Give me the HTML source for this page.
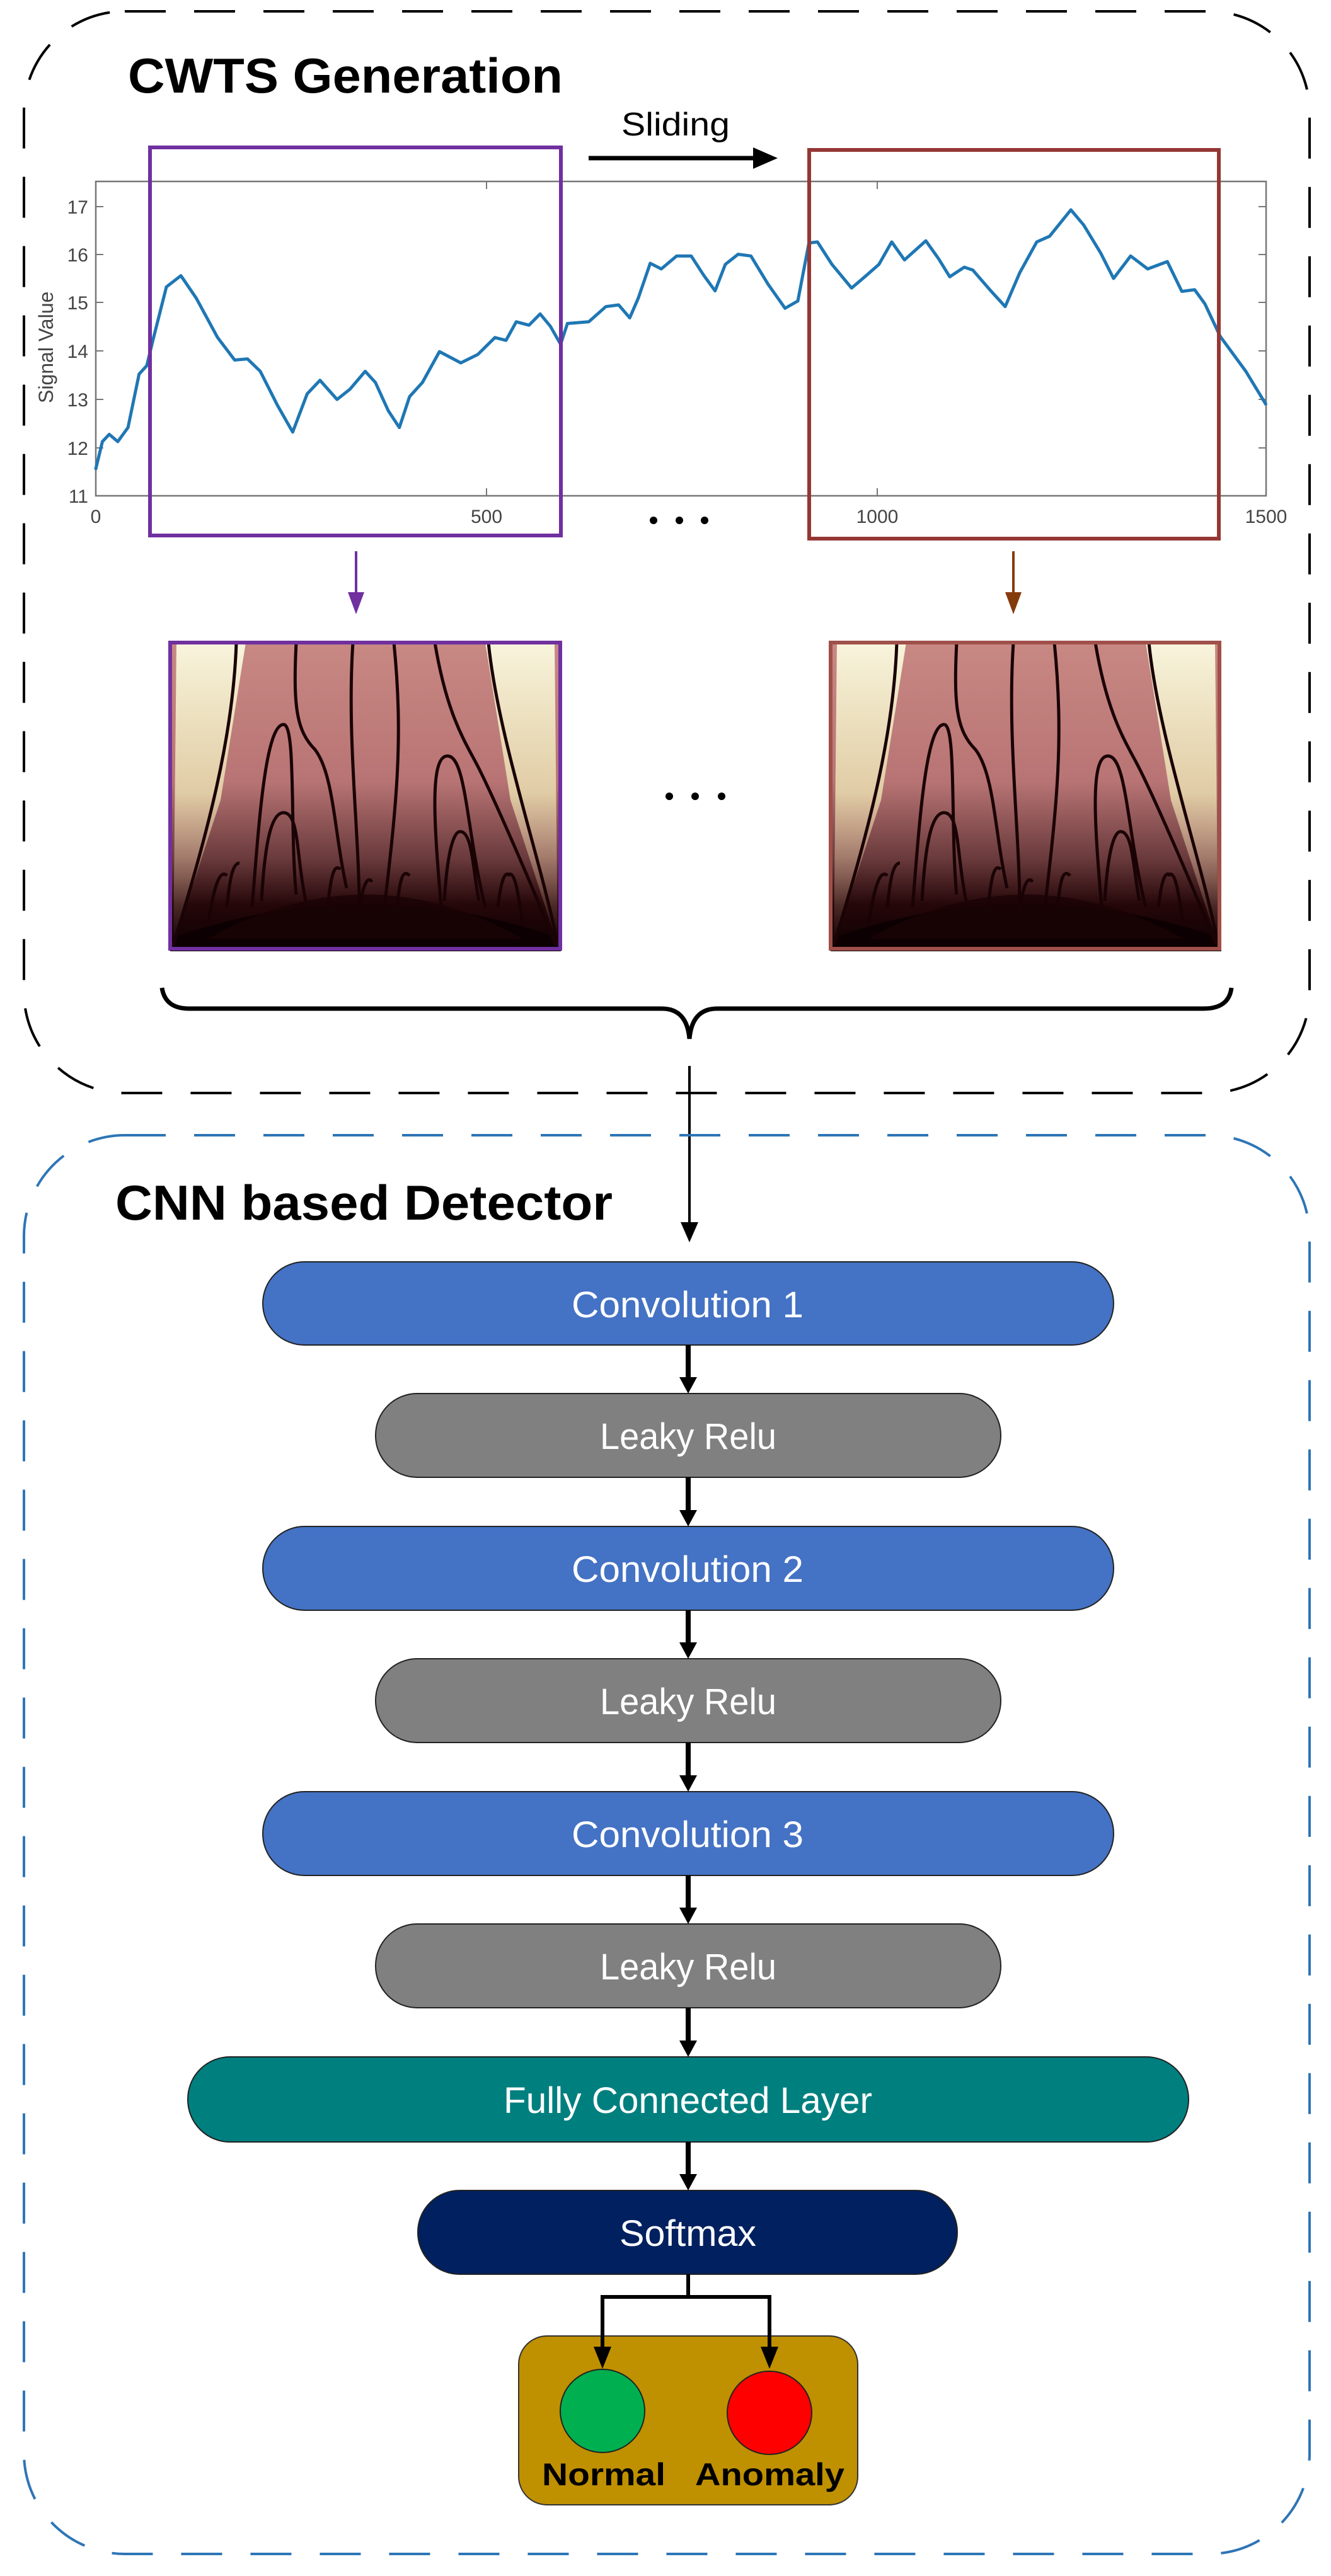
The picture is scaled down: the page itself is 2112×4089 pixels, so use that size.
<!DOCTYPE html>
<html><head><meta charset="utf-8"><style>html,body{margin:0;padding:0;background:#fff}svg{display:block}</style></head>
<body>
<svg xmlns="http://www.w3.org/2000/svg" width="2112" height="4089" viewBox="0 0 2112 4089">
<defs>
<linearGradient id="bg" x1="0" y1="0" x2="0" y2="1">
<stop offset="0" stop-color="#c88883"/><stop offset="0.45" stop-color="#b87474"/><stop offset="0.7" stop-color="#6a3a3c"/><stop offset="0.85" stop-color="#250709"/><stop offset="1" stop-color="#0c0002"/></linearGradient>
<linearGradient id="yl" x1="0" y1="0" x2="0" y2="1"><stop offset="0" stop-color="#f8f4dc"/><stop offset="0.5" stop-color="#e8dcae" stop-opacity="0.85"/><stop offset="1" stop-color="#c89080" stop-opacity="0"/></linearGradient>
<g id="scal">
<rect x="0" y="0" width="620" height="490" fill="url(#bg)"/>
<path d="M10,0 L120,0 L80,250 L5,480 Z" fill="url(#yl)"/>
<path d="M500,0 L610,0 L615,480 L540,250 Z" fill="url(#yl)"/>
<path d="M0,490 L0,470 Q310,360 620,470 L620,490 Z" fill="#0c0002"/>
<path d="M60,470 Q310,330 560,470 Z" fill="#1a0305" opacity="0.8"/>
<g fill="none" stroke="#1a0305" stroke-width="5">
<path d="M105,0 C100,150 60,300 5,480"/>
<path d="M200,0 C195,100 200,140 230,170 C260,210 260,300 280,390"/>
<path d="M290,0 C280,150 300,300 300,420"/>
<path d="M355,0 C370,150 360,250 340,420"/>
<path d="M420,0 C440,120 470,160 490,200 C520,260 580,400 612,480"/>
<path d="M505,0 C520,150 590,350 615,480"/>
<path d="M130,420 C140,300 150,130 180,130 C200,130 190,300 200,400"/>
<path d="M430,420 C420,300 410,180 440,180 C470,180 470,300 500,420"/>
<path d="M145,410 C150,320 160,270 180,270 C205,270 200,340 215,410"/>
<path d="M435,410 C440,330 450,300 460,300 C480,300 480,360 490,410"/>
<path d="M90,420 C95,370 100,350 110,350 M250,420 C255,370 260,350 270,360 M360,420 C365,370 370,360 380,370 M520,420 C525,380 530,360 540,370"/>
<path d="M60,450 C70,380 80,360 90,370 M560,450 C550,380 545,360 535,370 M300,430 C305,380 315,370 320,380"/>
</g>
</g>
</defs>

<rect x="38" y="18" width="2040" height="1717" rx="160" ry="160" fill="none" stroke="#000" stroke-width="4" stroke-dasharray="65,45"/>
<text x="203" y="147" font-family="Liberation Sans, sans-serif" font-weight="bold" font-size="78" textLength="690" lengthAdjust="spacingAndGlyphs">CWTS Generation</text>
<text x="986" y="215" font-family="Liberation Sans, sans-serif" font-size="52" textLength="172" lengthAdjust="spacingAndGlyphs">Sliding</text>
<line x1="934" y1="251" x2="1200" y2="251" stroke="#000" stroke-width="7"/>
<path d="M1195,234 L1234,251 L1195,268 Z" fill="#000"/>

<rect x="152" y="288" width="1857" height="499" fill="none" stroke="#777" stroke-width="2.5"/>
<g stroke="#777" stroke-width="2">
<line x1="152" y1="328" x2="164" y2="328"/><line x1="152" y1="404" x2="164" y2="404"/><line x1="152" y1="480" x2="164" y2="480"/><line x1="152" y1="557" x2="164" y2="557"/><line x1="152" y1="634" x2="164" y2="634"/><line x1="152" y1="711" x2="164" y2="711"/>
<line x1="2009" y1="328" x2="1997" y2="328"/><line x1="2009" y1="404" x2="1997" y2="404"/><line x1="2009" y1="480" x2="1997" y2="480"/><line x1="2009" y1="557" x2="1997" y2="557"/><line x1="2009" y1="634" x2="1997" y2="634"/><line x1="2009" y1="711" x2="1997" y2="711"/>
<line x1="772" y1="787" x2="772" y2="775"/><line x1="1392" y1="787" x2="1392" y2="775"/><line x1="772" y1="288" x2="772" y2="300"/><line x1="1392" y1="288" x2="1392" y2="300"/>
</g>
<g font-family="Liberation Sans, sans-serif" font-size="30" fill="#444" text-anchor="end">
<text x="140" y="339">17</text><text x="140" y="415">16</text><text x="140" y="491">15</text><text x="140" y="568">14</text><text x="140" y="645">13</text><text x="140" y="722">12</text><text x="140" y="798">11</text>
</g>
<g font-family="Liberation Sans, sans-serif" font-size="30" fill="#444" text-anchor="middle">
<text x="152" y="830">0</text><text x="772" y="830">500</text><text x="1392" y="830">1000</text><text x="2009" y="830">1500</text>
</g>
<text transform="translate(84,640) rotate(-90)" font-family="Liberation Sans, sans-serif" font-size="32" fill="#444">Signal      Value</text>
<g transform="matrix(1.354,0,0,0.893,0,0)">
<polyline fill="none" stroke="#1f77b4" stroke-width="5" vector-effect="non-scaling-stroke" stroke-linejoin="round" points="112,835 120,785 128,772 138,785 150,760 163,665 172,650 180,600 195,510 212,490 230,530 255,600 275,640 290,638 305,660 325,720 343,768 360,700 375,676 395,710 410,692 428,660 440,680 455,730 468,760 480,705 495,680 515,625 540,645 560,630 580,600 593,605 605,572 620,578 633,558 645,580 657,612 665,575 690,572 710,545 725,542 738,565 748,530 762,468 775,478 793,455 810,455 825,490 838,517 850,470 865,452 880,455 900,505 920,548 935,535 948,432 958,430 975,470 998,512 1015,490 1030,470 1045,430 1060,462 1085,428 1100,460 1113,492 1130,475 1140,480 1160,515 1178,545 1195,485 1215,430 1230,420 1255,373 1270,400 1290,450 1305,495 1325,455 1345,478 1368,465 1385,518 1400,515 1412,540 1430,598 1460,660 1484,720"/>
</g>
<rect x="238" y="234" width="652" height="616" fill="none" stroke="#7030A0" stroke-width="6"/>
<rect x="1284" y="238" width="650" height="617" fill="none" stroke="#953735" stroke-width="6"/>
<g fill="#000"><circle cx="1037" cy="826" r="6"/><circle cx="1078" cy="826" r="6"/><circle cx="1118" cy="826" r="6"/>
<circle cx="1062" cy="1264" r="6"/><circle cx="1103" cy="1264" r="6"/><circle cx="1145" cy="1264" r="6"/></g>

<line x1="565" y1="875" x2="565" y2="945" stroke="#7030A0" stroke-width="4"/>
<path d="M552,940 L565,975 L578,940 Z" fill="#7030A0"/>
<line x1="1608" y1="875" x2="1608" y2="945" stroke="#843C0C" stroke-width="4"/>
<path d="M1595,940 L1608,975 L1621,940 Z" fill="#843C0C"/>

<use href="#scal" x="270" y="1020"/>
<rect x="270" y="1020" width="619" height="486" fill="none" stroke="#7030A0" stroke-width="6"/>
<use href="#scal" x="1318" y="1020"/>
<rect x="1318" y="1020" width="617" height="486" fill="none" stroke="#A0504A" stroke-width="6"/>

<path d="M257,1568 Q262,1601 300,1601 L1050,1601 Q1090,1601 1094,1649 Q1098,1601 1138,1601 L1910,1601 Q1950,1601 1954,1568" fill="none" stroke="#000" stroke-width="7"/>
<line x1="1094" y1="1692" x2="1094" y2="1945" stroke="#000" stroke-width="4"/>
<path d="M1080,1940 L1094,1972 L1108,1940 Z" fill="#000"/>

<rect x="38" y="1802" width="2040" height="2252" rx="160" ry="160" fill="none" stroke="#2E75B6" stroke-width="4" stroke-dasharray="65,45"/>
<text x="183" y="1936" font-family="Liberation Sans, sans-serif" font-weight="bold" font-size="78" textLength="789" lengthAdjust="spacingAndGlyphs">CNN based Detector</text>

<g stroke="#222" stroke-width="2">
<rect x="417" y="2003" width="1350" height="132" rx="66" fill="#4472C4"/>
<rect x="596" y="2212" width="992" height="133" rx="66" fill="#808080"/>
<rect x="417" y="2423" width="1350" height="133" rx="66" fill="#4472C4"/>
<rect x="596" y="2633" width="992" height="133" rx="66" fill="#808080"/>
<rect x="417" y="2844" width="1350" height="133" rx="66" fill="#4472C4"/>
<rect x="596" y="3054" width="992" height="133" rx="66" fill="#808080"/>
<rect x="298" y="3265" width="1588" height="135" rx="67" fill="#007F7F"/>
<rect x="663" y="3477" width="856" height="133" rx="66" fill="#002060"/>
</g>
<g font-family="Liberation Sans, sans-serif" font-size="58" fill="#fff">
<text x="907" y="2091" textLength="368" lengthAdjust="spacingAndGlyphs">Convolution 1</text>
<text x="952" y="2300" textLength="280" lengthAdjust="spacingAndGlyphs">Leaky Relu</text>
<text x="907" y="2511" textLength="368" lengthAdjust="spacingAndGlyphs">Convolution 2</text>
<text x="952" y="2721" textLength="280" lengthAdjust="spacingAndGlyphs">Leaky Relu</text>
<text x="907" y="2932" textLength="368" lengthAdjust="spacingAndGlyphs">Convolution 3</text>
<text x="952" y="3142" textLength="280" lengthAdjust="spacingAndGlyphs">Leaky Relu</text>
<text x="799" y="3354" textLength="585" lengthAdjust="spacingAndGlyphs">Fully Connected Layer</text>
<text x="983" y="3565" textLength="217" lengthAdjust="spacingAndGlyphs">Softmax</text>
</g>
<g stroke="#000" stroke-width="8">
<line x1="1092" y1="2135" x2="1092" y2="2190"/><line x1="1092" y1="2345" x2="1092" y2="2401"/><line x1="1092" y1="2556" x2="1092" y2="2611"/>
<line x1="1092" y1="2766" x2="1092" y2="2822"/><line x1="1092" y1="2977" x2="1092" y2="3032"/><line x1="1092" y1="3187" x2="1092" y2="3243"/><line x1="1092" y1="3400" x2="1092" y2="3455"/>
</g>
<g fill="#000">
<path d="M1078,2186 L1092,2212 L1106,2186Z"/><path d="M1078,2397 L1092,2423 L1106,2397Z"/><path d="M1078,2607 L1092,2633 L1106,2607Z"/>
<path d="M1078,2818 L1092,2844 L1106,2818Z"/><path d="M1078,3028 L1092,3054 L1106,3028Z"/><path d="M1078,3239 L1092,3265 L1106,3239Z"/><path d="M1078,3451 L1092,3477 L1106,3451Z"/>
</g>

<rect x="823" y="3708" width="538" height="268" rx="45" fill="#BF9000" stroke="#333" stroke-width="2"/>
<polyline points="1092,3610 1092,3646 956,3646 956,3730" fill="none" stroke="#000" stroke-width="6"/>
<polyline points="1092,3646 1221,3646 1221,3730" fill="none" stroke="#000" stroke-width="6"/>
<path d="M942,3725 L956,3760 L970,3725Z" fill="#000"/><path d="M1207,3725 L1221,3760 L1235,3725Z" fill="#000"/>
<ellipse cx="956" cy="3827" rx="67" ry="66" fill="#00B050" stroke="#222" stroke-width="2"/>
<ellipse cx="1221" cy="3830" rx="67" ry="66" fill="#FF0000" stroke="#222" stroke-width="2"/>
<g font-family="Liberation Sans, sans-serif" font-weight="bold" font-size="50" fill="#000">
<text x="860" y="3945" textLength="196" lengthAdjust="spacingAndGlyphs">Normal</text>
<text x="1103" y="3945" textLength="237" lengthAdjust="spacingAndGlyphs">Anomaly</text>
</g>
</svg>
</body></html>
